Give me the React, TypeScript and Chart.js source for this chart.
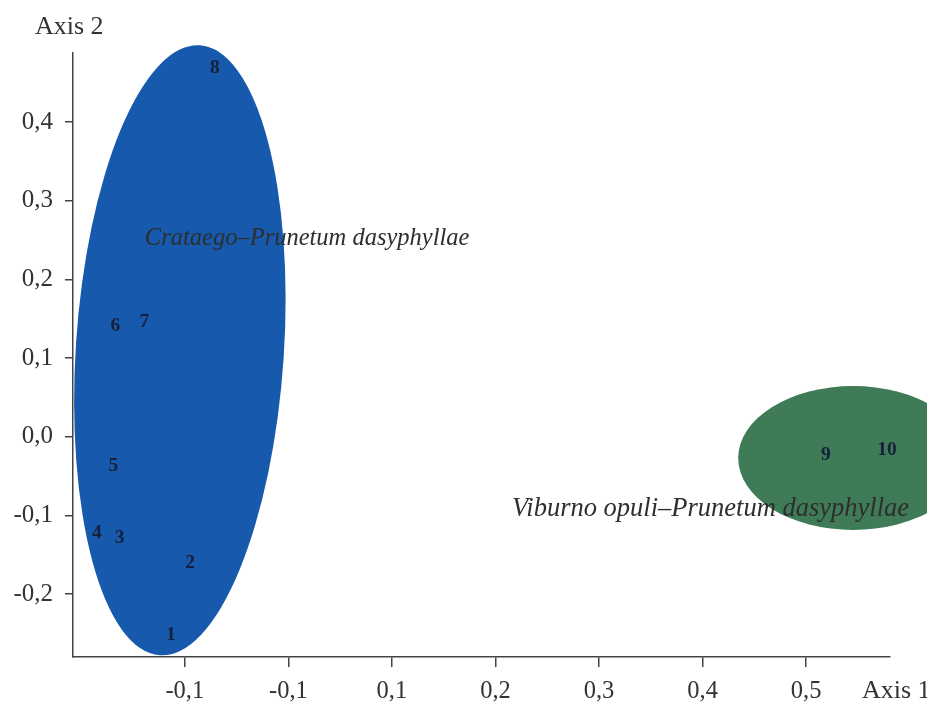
import React, { useEffect, useRef } from "react";
import { Chart, registerables } from "chart.js";

Chart.register(...registerables);

// ---- data ----
const releveIds = ["1", "2", "3", "4", "5", "6", "7", "8", "9", "10"];
const axis1Scores = [-0.1135, -0.095, -0.163, -0.185, -0.169, -0.167, -0.139, -0.071, 0.519, 0.578];
const axis2Scores = [-0.252, -0.161, -0.129, -0.122, -0.037, 0.141, 0.146, 0.469, -0.023, -0.017];

const xTickValues = [-0.1, 0, 0.1, 0.2, 0.3, 0.4, 0.5];
const xTickLabels = ["-0,1", "-0,1", "0,1", "0,2", "0,3", "0,4", "0,5"];
const yTickValues = [-0.2, -0.1, 0, 0.1, 0.2, 0.3, 0.4];
const yTickLabels = ["-0,2", "-0,1", "0,0", "0,1", "0,2", "0,3", "0,4"];

const xRange = [-0.208, 0.581];
const yRange = [-0.28, 0.488];

const groupNames = ["Crataego–Prunetum dasyphyllae", "Viburno opuli–Prunetum dasyphyllae"];
const groupCenterX = [-0.1048, 0.5454];
const groupCenterY = [0.11, -0.027];
const groupSpreadX = [0.1005, 0.111];
const groupSpreadY = [0.3886, 0.0915];
const groupTiltDeg = [3.75, 0];
const groupLabelX = [-0.1386, 0.216];
const groupLabelY = [0.2525, -0.092];

const axisTitles = ["Axis 1", "Axis 2"];

// ---- styles ----
const groupColors = ["#1659ad", "#3e7b56"];
const groupLabelSizes = [24.5, 26.5];
const serif = "'Liberation Serif', 'Times New Roman', serif";
const textColor = "#333333";
const axisColor = "#444444";

const overlayPlugin = {
  id: "overlay",
  beforeDatasetsDraw(chart: any) {
    const { ctx } = chart;
    const x = chart.scales.x;
    const y = chart.scales.y;
    ctx.save();
    for (let i = 0; i < groupNames.length; i++) {
      const cx = x.getPixelForValue(groupCenterX[i]);
      const cy = y.getPixelForValue(groupCenterY[i]);
      const rx = Math.abs(x.getPixelForValue(groupCenterX[i] + groupSpreadX[i]) - cx);
      const ry = Math.abs(y.getPixelForValue(groupCenterY[i] + groupSpreadY[i]) - cy);
      ctx.beginPath();
      ctx.ellipse(cx, cy, rx, ry, (groupTiltDeg[i] * Math.PI) / 180, 0, Math.PI * 2);
      ctx.fillStyle = groupColors[i];
      ctx.fill();
    }
    ctx.restore();
  },
  afterDatasetsDraw(chart: any) {
    const { ctx, chartArea } = chart;
    const x = chart.scales.x;
    const y = chart.scales.y;
    ctx.save();
    // point labels
    const meta = chart.getDatasetMeta(0);
    ctx.font = `bold 19.5px ${serif}`;
    ctx.fillStyle = "#17203a";
    ctx.textAlign = "center";
    ctx.textBaseline = "middle";
    meta.data.forEach((pt: any, i: number) => {
      ctx.fillText(releveIds[i], pt.x, pt.y);
    });
    // group labels
    ctx.fillStyle = "#2e2e2e";
    ctx.textAlign = "left";
    for (let i = 0; i < groupNames.length; i++) {
      ctx.font = `italic ${groupLabelSizes[i]}px ${serif}`;
      ctx.fillText(groupNames[i], x.getPixelForValue(groupLabelX[i]), y.getPixelForValue(groupLabelY[i]));
    }
    // axis titles
    ctx.font = `26px ${serif}`;
    ctx.fillStyle = textColor;
    ctx.textAlign = "left";
    ctx.fillText(axisTitles[0], chartArea.right - 28, chartArea.bottom + 34);
    ctx.fillText(axisTitles[1], 35, 27);
    ctx.restore();
  },
};

export default function App() {
  const canvasRef = useRef<HTMLCanvasElement | null>(null);

  useEffect(() => {
    if (!canvasRef.current) return;
    const chart = new Chart(canvasRef.current, {
      type: "scatter",
      data: {
        datasets: [
          {
            data: axis1Scores.map((v, i) => ({ x: v, y: axis2Scores[i] })),
            pointRadius: 0,
            pointHoverRadius: 0,
          },
        ],
      },
      options: {
        animation: false,
        responsive: true,
        maintainAspectRatio: false,
        events: [],
        layout: { padding: { top: 53, right: 37, left: 0, bottom: 0 } },
        plugins: { legend: { display: false }, tooltip: { enabled: false } },
        scales: {
          x: {
            type: "linear",
            min: xRange[0],
            max: xRange[1],
            afterBuildTicks: (scale: any) => {
              scale.ticks = xTickValues.map((v) => ({ value: v }));
            },
            afterFit: (scale: any) => {
              scale.height = 45;
            },
            grid: {
              display: true,
              drawOnChartArea: false,
              drawTicks: true,
              tickLength: 10,
              color: axisColor,
              lineWidth: 1.5,
            },
            border: { display: true, color: axisColor, width: 1.5 },
            ticks: {
              autoSkip: false,
              maxRotation: 0,
              padding: 10,
              color: textColor,
              font: { family: serif, size: 24.5 },
              callback: (_v: any, i: number) => xTickLabels[i],
            },
          },
          y: {
            type: "linear",
            min: yRange[0],
            max: yRange[1],
            afterBuildTicks: (scale: any) => {
              scale.ticks = yTickValues.map((v) => ({ value: v }));
            },
            afterFit: (scale: any) => {
              scale.width = 73;
            },
            grid: {
              display: true,
              drawOnChartArea: false,
              drawTicks: true,
              tickLength: 8,
              color: axisColor,
              lineWidth: 1.5,
            },
            border: { display: true, color: axisColor, width: 1.5 },
            ticks: {
              autoSkip: false,
              padding: 12,
              color: textColor,
              font: { family: serif, size: 25 },
              callback: (_v: any, i: number) => yTickLabels[i],
            },
          },
        },
      },
      plugins: [overlayPlugin],
    });
    return () => chart.destroy();
  }, []);

  return (
    <div style={{ position: "absolute", left: 0, top: 0, width: 927, height: 702, background: "#ffffff" }}>
      <canvas ref={canvasRef} />
    </div>
  );
}
